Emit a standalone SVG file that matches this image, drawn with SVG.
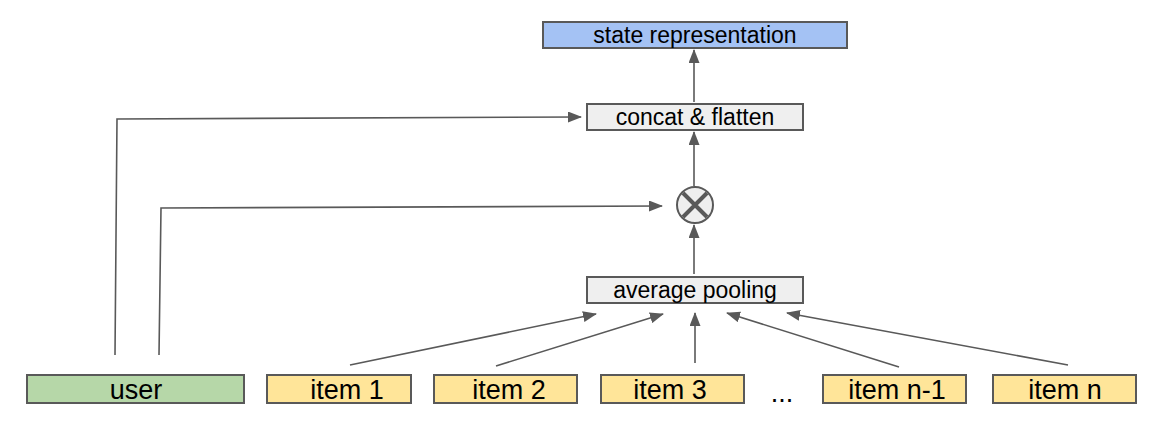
<svg xmlns="http://www.w3.org/2000/svg" width="1153" height="422" viewBox="0 0 1153 422">
<style>
.box{stroke:#595959;stroke-width:2}
.blue{fill:#a4c2f4}
.gray{fill:#efefef}
.green{fill:#b6d7a8}
.yellow{fill:#ffe599}
.t{font-family:"Liberation Sans",Arial,sans-serif;fill:#000;text-anchor:middle}
.s23{font-size:23px}
.s27{font-size:27px}
.c{fill:none;stroke:#595959;stroke-width:1.6;marker-end:url(#ah)}
</style>
<defs>
<marker id="ah" markerUnits="userSpaceOnUse" markerWidth="14" markerHeight="11" refX="13" refY="5.5" orient="auto">
<path d="M0,0 L14,5.5 L0,11 z" fill="#595959"/>
</marker>
</defs>
<rect width="1153" height="422" fill="#fff"/>
<g id="connectors">
<line class="c" x1="694" y1="102" x2="694" y2="50"/>
<line class="c" x1="694" y1="186" x2="694" y2="132"/>
<line class="c" x1="694" y1="274" x2="694" y2="225"/>
<polyline class="c" points="115,355 117,119 581,117"/>
<polyline class="c" points="159,355 161,208 662,206"/>
<line class="c" x1="350" y1="365" x2="596" y2="314"/>
<line class="c" x1="496" y1="366" x2="663" y2="314"/>
<line class="c" x1="695" y1="363" x2="695" y2="313"/>
<line class="c" x1="899" y1="367" x2="727" y2="313"/>
<line class="c" x1="1068" y1="365" x2="787" y2="313"/>
</g>
<g id="state">
<rect class="box blue" x="543" y="22" width="304" height="26"/>
<text class="t s23" x="695" y="43">state representation</text>
</g>
<g id="concat">
<rect class="box gray" x="587" y="104" width="216" height="26"/>
<text class="t s23" x="695" y="125">concat &amp; flatten</text>
</g>
<g id="multiply">
<circle cx="695" cy="205" r="18" fill="#efefef" stroke="#595959" stroke-width="2"/>
<path d="M683,193 L707,217 M707,193 L683,217" stroke="#595959" stroke-width="4" fill="none"/>
</g>
<g id="pooling">
<rect class="box gray" x="587" y="277" width="216" height="26"/>
<text class="t s23" x="695" y="298">average pooling</text>
</g>
<g id="user">
<rect class="box green" x="27" y="375" width="217" height="28"/>
<text class="t s27" x="136" y="399">user</text>
</g>
<g id="item1">
<rect class="box yellow" x="267" y="375" width="144" height="28"/>
<text class="t s27" x="347" y="399">item 1</text>
</g>
<g id="item2">
<rect class="box yellow" x="434" y="375" width="143" height="28"/>
<text class="t s27" x="509" y="399">item 2</text>
</g>
<g id="item3">
<rect class="box yellow" x="601" y="375" width="143" height="28"/>
<text class="t s27" x="670" y="399">item 3</text>
</g>
<g id="ellipsis">
<text class="t s27" x="782" y="402">...</text>
</g>
<g id="itemn1">
<rect class="box yellow" x="823" y="375" width="143" height="28"/>
<text class="t s27" x="897" y="399">item n-1</text>
</g>
<g id="itemn">
<rect class="box yellow" x="993" y="375" width="143" height="28"/>
<text class="t s27" x="1065" y="399">item n</text>
</g>
</svg>
